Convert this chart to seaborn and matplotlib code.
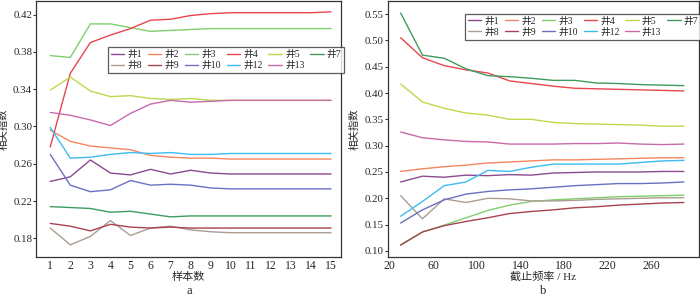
import pandas as pd
import matplotlib
matplotlib.use("Agg")
import matplotlib.pyplot as plt
import seaborn as sns

wells = ["井1", "井2", "井3", "井4", "井5", "井7", "井8", "井9", "井10", "井12", "井13"]
colors = ["#8c4a92", "#f4875e", "#80cf6c", "#e8464e", "#bcd94c", "#3f9c5e",
          "#ab9d92", "#a8434f", "#6b70c0", "#3cbdf0", "#c86aab"]

# a: 样本数
samples = list(range(1, 16))
a_w1 = [0.241, 0.246, 0.264, 0.250, 0.248, 0.254, 0.249, 0.253, 0.250, 0.249, 0.249, 0.249, 0.249, 0.249, 0.249]
a_w2 = [0.296, 0.284, 0.279, 0.277, 0.275, 0.269, 0.267, 0.266, 0.266, 0.265, 0.265, 0.265, 0.265, 0.265, 0.265]
a_w3 = [0.376, 0.374, 0.410, 0.410, 0.406, 0.402, 0.403, 0.404, 0.405, 0.405, 0.405, 0.405, 0.405, 0.405, 0.405]
a_w4 = [0.278, 0.357, 0.390, 0.398, 0.405, 0.414, 0.415, 0.419, 0.421, 0.422, 0.422, 0.422, 0.422, 0.422, 0.423]
a_w5 = [0.339, 0.353, 0.338, 0.332, 0.333, 0.330, 0.329, 0.330, 0.328, 0.328, 0.328, 0.328, 0.328, 0.328, 0.328]
a_w7 = [0.214, 0.213, 0.212, 0.208, 0.209, 0.206, 0.203, 0.204, 0.204, 0.204, 0.204, 0.204, 0.204, 0.204, 0.204]
a_w8 = [0.191, 0.173, 0.182, 0.199, 0.183, 0.191, 0.193, 0.189, 0.187, 0.186, 0.186, 0.186, 0.186, 0.186, 0.186]
a_w9 = [0.196, 0.193, 0.188, 0.195, 0.192, 0.191, 0.192, 0.191, 0.191, 0.191, 0.191, 0.191, 0.191, 0.191, 0.191]
a_w10 = [0.270, 0.237, 0.230, 0.232, 0.242, 0.237, 0.238, 0.237, 0.234, 0.233, 0.233, 0.233, 0.233, 0.233, 0.233]
a_w12 = [0.299, 0.266, 0.267, 0.270, 0.272, 0.271, 0.272, 0.270, 0.270, 0.271, 0.271, 0.271, 0.271, 0.271, 0.271]
a_w13 = [0.315, 0.312, 0.307, 0.301, 0.314, 0.324, 0.328, 0.326, 0.327, 0.328, 0.328, 0.328, 0.328, 0.328, 0.328]

# b: 截止频率 / Hz
freqs = [30, 50, 70, 90, 110, 130, 150, 170, 190, 210, 230, 250, 270, 290]
b_w1 = [0.231, 0.242, 0.240, 0.244, 0.243, 0.245, 0.244, 0.248, 0.249, 0.250, 0.250, 0.250, 0.251, 0.251]
b_w2 = [0.251, 0.256, 0.260, 0.263, 0.267, 0.269, 0.271, 0.273, 0.273, 0.274, 0.275, 0.276, 0.277, 0.277]
b_w3 = [0.112, 0.136, 0.149, 0.163, 0.177, 0.187, 0.194, 0.197, 0.199, 0.201, 0.203, 0.204, 0.205, 0.206]
b_w4 = [0.505, 0.467, 0.452, 0.444, 0.438, 0.423, 0.418, 0.413, 0.409, 0.408, 0.407, 0.406, 0.405, 0.404]
b_w5 = [0.417, 0.383, 0.371, 0.362, 0.358, 0.350, 0.350, 0.344, 0.342, 0.341, 0.340, 0.339, 0.337, 0.337]
b_w7 = [0.552, 0.472, 0.466, 0.446, 0.433, 0.431, 0.428, 0.424, 0.424, 0.419, 0.418, 0.416, 0.415, 0.414]
b_w8 = [0.205, 0.161, 0.199, 0.192, 0.200, 0.199, 0.195, 0.195, 0.196, 0.198, 0.199, 0.200, 0.201, 0.201]
b_w9 = [0.111, 0.136, 0.148, 0.156, 0.163, 0.171, 0.175, 0.178, 0.182, 0.184, 0.187, 0.189, 0.191, 0.192]
b_w10 = [0.153, 0.178, 0.197, 0.208, 0.213, 0.216, 0.218, 0.221, 0.224, 0.226, 0.228, 0.228, 0.229, 0.231]
b_w12 = [0.166, 0.194, 0.224, 0.231, 0.253, 0.251, 0.259, 0.265, 0.265, 0.265, 0.265, 0.268, 0.271, 0.272]
b_w13 = [0.326, 0.315, 0.311, 0.308, 0.307, 0.303, 0.303, 0.303, 0.304, 0.304, 0.305, 0.303, 0.302, 0.303]

a_series = [a_w1, a_w2, a_w3, a_w4, a_w5, a_w7, a_w8, a_w9, a_w10, a_w12, a_w13]
b_series = [b_w1, b_w2, b_w3, b_w4, b_w5, b_w7, b_w8, b_w9, b_w10, b_w12, b_w13]


def long_df(xs, series):
    rows = []
    for w, vals in zip(wells, series):
        for x, v in zip(xs, vals):
            rows.append({"x": x, "v": v, "well": w})
    return pd.DataFrame(rows)


df_a = long_df(samples, a_series)
df_b = long_df(freqs, b_series)

sns.set_style("white")
plt.rcParams["font.family"] = ["Liberation Serif", "Noto Sans CJK SC"]
plt.rcParams["axes.unicode_minus"] = False

fig = plt.figure(figsize=(7, 2.95), dpi=100)
ax1 = fig.add_axes([0.052, 0.129, 0.435, 0.868])
ax2 = fig.add_axes([0.554, 0.129, 0.444, 0.868])
pal = dict(zip(wells, colors))

for ax, df in [(ax1, df_a), (ax2, df_b)]:
    sns.lineplot(data=df, x="x", y="v", hue="well", hue_order=wells, palette=pal,
                 linewidth=1.0, sort=False, ax=ax)
    for s in ax.spines.values():
        s.set_color("#333333")
        s.set_linewidth(0.9)
    ax.tick_params(axis="x", direction="in", length=3, labelsize=8.5, pad=2, color="#333333")
    ax.tick_params(axis="y", direction="out", length=2, labelsize=7.8, pad=1, color="#333333", left=True)
    ax.set_ylabel("相关指数", fontsize=7.5)

ax1.set_xlim(0.31, 15.49)
ax1.set_ylim(0.160, 0.4347)
ax1.set_xticks(samples)
ax1.set_yticks([0.18, 0.22, 0.26, 0.30, 0.34, 0.38, 0.42])
ax1.set_yticklabels(["0.18", "0.22", "0.26", "0.30", "0.34", "0.38", "0.42"])
ax1.set_xlabel("样本数", fontsize=8, labelpad=0)
ax1.yaxis.set_label_coords(-0.092, 0.5)

ax2.set_xlim(18.2, 303.5)
ax2.set_ylim(0.0886, 0.575)
ax2.set_xticks([20, 60, 100, 140, 180, 220, 260])
ax2.set_yticks([0.10, 0.15, 0.20, 0.25, 0.30, 0.35, 0.40, 0.45, 0.50, 0.55])
ax2.set_yticklabels(["0.10", "0.15", "0.20", "0.25", "0.30", "0.35", "0.40", "0.45", "0.50", "0.55"])
ax2.set_xlabel("截止频率 / Hz", fontsize=8, labelpad=0)
ax2.yaxis.set_label_coords(-0.09, 0.5)

# legend is filled column by column: reorder so rows read 井1..井7 / 井8..井13
order = [0, 6, 1, 7, 2, 8, 3, 9, 4, 10, 5]
for ax, anchor in [(ax1, (0.235, 0.82)), (ax2, (0.248, 0.95))]:
    h, l = ax.get_legend_handles_labels()
    leg = ax.legend([h[i] for i in order], [l[i] for i in order], ncol=6,
                    loc="upper left", bbox_to_anchor=anchor,
                    fontsize=7, frameon=True, fancybox=False, handlelength=1.4,
                    handletextpad=0.3, columnspacing=0.6, labelspacing=0.2,
                    borderpad=0.3, borderaxespad=0)
    leg.get_frame().set_edgecolor("#333333")
    leg.get_frame().set_linewidth(0.9)

fig.text(0.27, 0.005, "a", fontsize=9, ha="center")
fig.text(0.776, 0.005, "b", fontsize=9, ha="center")

fig.savefig("out.png", dpi=100)
